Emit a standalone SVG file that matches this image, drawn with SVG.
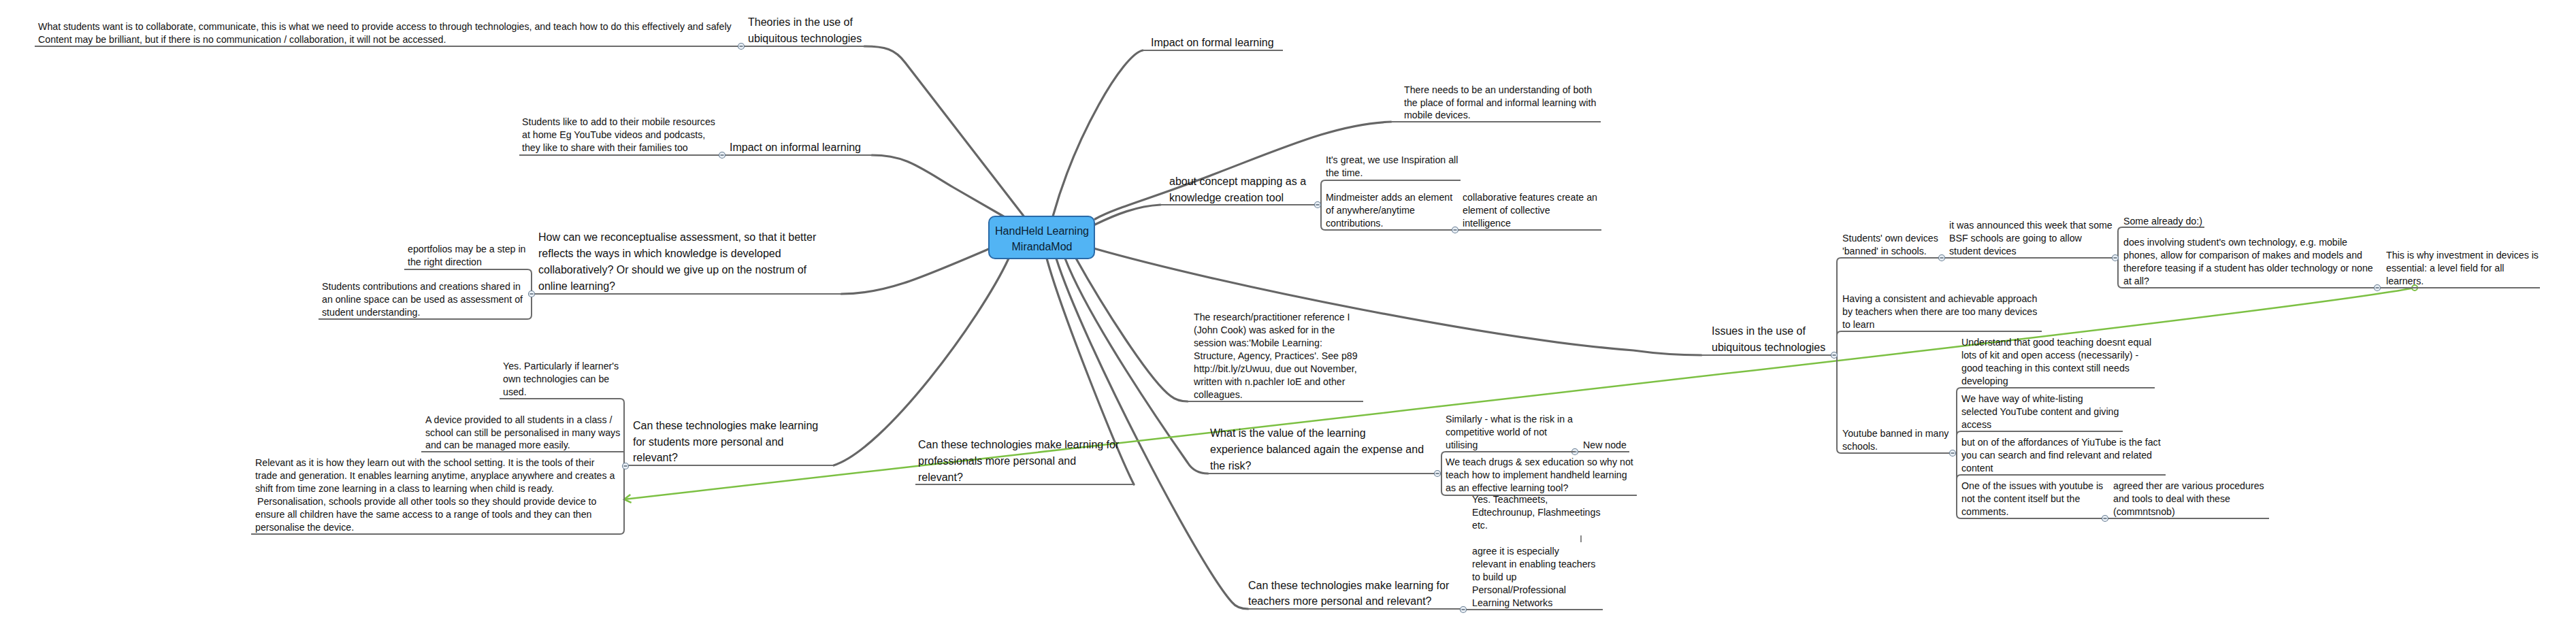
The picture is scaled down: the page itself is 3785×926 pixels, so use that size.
<svg xmlns="http://www.w3.org/2000/svg" width="3785" height="926" viewBox="0 0 3785 926">
<style>
text{font-family:"Liberation Sans",Arial,sans-serif;fill:#111}
.t{font-size:14.2px}
.h{font-size:16px}
.c{font-size:16px;text-anchor:middle;fill:#0b1e33}
.br{fill:none;stroke:#666;stroke-width:3.2;stroke-linecap:round}
.ul{fill:none;stroke:#6b6b6b;stroke-width:2}
.cc{fill:#eaf0f6;stroke:#6a7f94;stroke-width:1.2}
.mn{stroke:#2c3e50;stroke-width:1.2}
.gl{fill:none;stroke:#7cc043;stroke-width:2.5}
</style>
<defs>
<marker id="ga" markerWidth="14" markerHeight="14" refX="11" refY="7" orient="auto" markerUnits="userSpaceOnUse">
<path d="M1,1 L11,7 L1,13" fill="none" stroke="#7cc043" stroke-width="2.5"/>
</marker>
<g id="col"><circle class="cc" r="4.5"/><line class="mn" x1="-2.5" y1="0" x2="2.5" y2="0"/></g>
</defs>
<rect width="3785" height="926" fill="#fff"/>

<g id="connectors">
<path class="br" d="M1270,68 C1300,68 1315,72 1330,92 L1506,320"/>
<path class="br" d="M1281,228 C1330,228 1350,245 1400,275 L1478,320"/>
<path class="br" d="M1236,432 C1300,432 1350,410 1455,365"/>
<path class="br" d="M1225,684 C1300,660 1440,470 1482,380"/>
<path class="br" d="M1538,380 C1560,460 1640,660 1666,712"/>
<path class="br" d="M1552,380 C1590,500 1760,830 1810,885 Q1818,895 1834,895"/>
<path class="br" d="M1565,380 C1600,470 1710,630 1745,680 Q1755,696 1775,696"/>
<path class="br" d="M1580,378 C1620,450 1690,560 1720,582 Q1730,590 1745,590"/>
<path class="br" d="M1679,74 C1650,80 1580,200 1547,318"/>
<path class="br" d="M2044,179 C1960,182 1880,220 1760,265 C1690,292 1640,305 1609,322"/>
<path class="br" d="M1705,301 C1670,303 1640,315 1609,330"/>
<path class="br" d="M1607,365 C1800,420 2200,500 2400,515 Q2450,522 2500,522"/>
<path class="gl" d="M3548,423 C3380,455 2400,565 917,734" marker-end="url(#ga)"/>
<circle cx="3548" cy="423" r="4" fill="#fff" stroke="#7cc043" stroke-width="2"/>
</g>

<g id="center">
<rect x="1453" y="318" width="155" height="62" rx="9" fill="#52b4f4" stroke="#2a6aa8" stroke-width="2"/>
<text class="c" x="1531" y="345">HandHeld Learning</text>
<text class="c" x="1531" y="368">MirandaMod</text>
</g>

<g id="theories">
<text class="h" x="1099" y="38">Theories in the use of</text>
<text class="h" x="1099" y="62">ubiquitous technologies</text>
<path class="ul" d="M1089,68 H1285"/>
</g>
<g id="what-students">
<text class="t" x="56" y="44">What students want is to collaborate, communicate, this is what we need to provide access to through technologies, and teach how to do this effectively and safely</text>
<text class="t" x="56" y="63">Content may be brilliant, but if there is no communication / collaboration, it will not be accessed.</text>
<path class="ul" d="M51,68 H1089"/>
<use href="#col" x="1089" y="68"/>
</g>

<g id="informal">
<text class="h" x="1072" y="222">Impact on informal learning</text>
<path class="ul" d="M1061,228 H1285"/>
</g>
<g id="students-like">
<text class="t" x="767" y="184">Students like to add to their mobile resources</text>
<text class="t" x="767" y="203">at home Eg YouTube videos and podcasts,</text>
<text class="t" x="767" y="222">they like to share with their families too</text>
<path class="ul" d="M763,228 H1061"/>
<use href="#col" x="1061" y="228"/>
</g>

<g id="assessment">
<text class="h" x="791" y="354">How can we reconceptualise assessment, so that it better</text>
<text class="h" x="791" y="378">reflects the ways in which knowledge is developed</text>
<text class="h" x="791" y="402">collaboratively? Or should we give up on the nostrum of</text>
<text class="h" x="791" y="426">online learning?</text>
<path class="ul" d="M781,432 H1236"/>
</g>
<g id="eportfolios">
<text class="t" x="599" y="371">eportfolios may be a step in</text>
<text class="t" x="599" y="390">the right direction</text>
</g>
<g id="contributions">
<text class="t" x="473" y="426">Students contributions and creations shared in</text>
<text class="t" x="473" y="445">an online space can be used as  assessment of</text>
<text class="t" x="473" y="464">student understanding.</text>
<path class="ul" d="M594,396 H775 Q781,396 781,402 V463 Q781,469 775,469 H468"/>
<use href="#col" x="781" y="432"/>
</g>

<g id="students-personal">
<text class="h" x="930" y="631">Can these technologies make learning</text>
<text class="h" x="930" y="655">for students more personal and</text>
<text class="h" x="930" y="678">relevant?</text>
<path class="ul" d="M919,684 H1225"/>
</g>
<g id="yes-particularly">
<text class="t" x="739" y="543">Yes. Particularly if learner's</text>
<text class="t" x="739" y="562">own technologies can be</text>
<text class="t" x="739" y="581">used.</text>
</g>
<g id="device">
<text class="t" x="625" y="622">A device provided to all students in a class /</text>
<text class="t" x="625" y="641">school can still be personalised in many ways</text>
<text class="t" x="625" y="659">and can be managed more easily.</text>
</g>
<g id="relevant">
<text class="t" x="375" y="685">Relevant as it is how they learn out with the school setting.  It is the tools of their</text>
<text class="t" x="375" y="704">trade and generation.  It enables learning anytime, anyplace anywhere and creates a</text>
<text class="t" x="375" y="723">shift from time zone learning in a class to learning when child is ready.</text>
<text class="t" x="378" y="742">Personalisation, schools provide all other tools so they should provide device to</text>
<text class="t" x="375" y="761">ensure all children have the same access to a range of tools and they can then</text>
<text class="t" x="375" y="780">personalise the device.</text>
<path class="ul" d="M734,586 H911 Q917,586 917,592 V779 Q917,785 911,785 H369 M619,664 H917"/>
<use href="#col" x="919" y="685"/>
</g>

<g id="professionals">
<text class="h" x="1349" y="659">Can these technologies make learning for</text>
<text class="h" x="1349" y="683">professionals more personal and</text>
<text class="h" x="1349" y="707">relevant?</text>
<path class="ul" d="M1345,712 H1666"/>
</g>

<g id="formal">
<text class="h" x="1691" y="68">Impact on formal learning</text>
<path class="ul" d="M1679,74 H1885"/>
</g>
<g id="there-needs">
<text class="t" x="2063" y="137">There needs to be an understanding of both</text>
<text class="t" x="2063" y="156">the place of formal and informal learning with</text>
<text class="t" x="2063" y="174">mobile devices.</text>
<path class="ul" d="M2044,179 H2352"/>
</g>

<g id="concept">
<text class="h" x="1718" y="272">about concept mapping as a</text>
<text class="h" x="1718" y="296">knowledge creation tool</text>
<path class="ul" d="M1705,301 H1936"/>
</g>
<g id="its-great">
<text class="t" x="1948" y="240">It's great, we use Inspiration all</text>
<text class="t" x="1948" y="259">the time.</text>
</g>
<g id="mindmeister">
<text class="t" x="1948" y="295">Mindmeister adds an element</text>
<text class="t" x="1948" y="314">of anywhere/anytime</text>
<text class="t" x="1948" y="333">contributions.</text>
<path class="ul" d="M2146,265 H1947 Q1941,265 1941,271 V332 Q1941,338 1947,338 H2138"/>
<use href="#col" x="1936" y="301"/>
</g>
<g id="collaborative">
<text class="t" x="2149" y="295">collaborative features create an</text>
<text class="t" x="2149" y="314">element of collective</text>
<text class="t" x="2149" y="333">intelligence</text>
<path class="ul" d="M2138,338 H2353"/>
<use href="#col" x="2138" y="338"/>
</g>

<g id="research">
<text class="t" x="1754" y="471">The research/practitioner reference I</text>
<text class="t" x="1754" y="490">(John Cook) was asked for in the</text>
<text class="t" x="1754" y="509">session was:'Mobile Learning:</text>
<text class="t" x="1754" y="528">Structure, Agency, Practices'. See p89</text>
<text class="t" x="1754" y="547">http://bit.ly/zUwuu, due out November,</text>
<text class="t" x="1754" y="566">written with n.pachler IoE and other</text>
<text class="t" x="1754" y="585">colleagues.</text>
<path class="ul" d="M1738,590 H2003"/>
</g>

<g id="value">
<text class="h" x="1778" y="642">What is the value of the learning</text>
<text class="h" x="1778" y="666">experience balanced again the expense and</text>
<text class="h" x="1778" y="690">the risk?</text>
<path class="ul" d="M1767,696 H2112"/>
</g>
<g id="similarly">
<text class="t" x="2124" y="621">Similarly - what is the risk in a</text>
<text class="t" x="2124" y="640">competitive world of not</text>
<text class="t" x="2124" y="659">utilising</text>
</g>
<g id="new-node">
<text class="t" x="2326" y="659">New node</text>
<path class="ul" d="M2314,664 H2394"/>
<use href="#col" x="2314" y="664"/>
</g>
<g id="we-teach">
<text class="t" x="2124" y="684">We teach drugs &amp; sex education so why not</text>
<text class="t" x="2124" y="703">teach how to implement handheld learning</text>
<text class="t" x="2124" y="722">as an effective learning tool?</text>
<path class="ul" d="M2314,664 H2124 Q2118,664 2118,670 V722 Q2118,728 2124,728 H2405"/>
<use href="#col" x="2112" y="696"/>
</g>

<g id="teachers">
<text class="h" x="1834" y="866">Can these technologies make learning for</text>
<text class="h" x="1834" y="889">teachers more personal and relevant?</text>
<path class="ul" d="M1834,895 H2150"/>
</g>
<g id="teachmeets">
<text class="t" x="2163" y="739">Yes. Teachmeets,</text>
<text class="t" x="2163" y="758">Edtechrounup, Flashmeetings</text>
<text class="t" x="2163" y="777">etc.</text>
<line x1="2323" y1="787" x2="2323" y2="797" stroke="#111" stroke-width="1"/>
<text class="t" x="2163" y="815">agree it is especially</text>
<text class="t" x="2163" y="834">relevant in enabling teachers</text>
<text class="t" x="2163" y="853">to build up</text>
<text class="t" x="2163" y="872">Personal/Professional</text>
<text class="t" x="2163" y="891">Learning Networks</text>
<path class="ul" d="M2150,896 H2355"/>
<use href="#col" x="2150" y="896"/>
</g>

<g id="issues">
<text class="h" x="2515" y="492">Issues in the use of</text>
<text class="h" x="2515" y="516">ubiquitous technologies</text>
<path class="ul" d="M2498,522 H2695"/>
</g>
<g id="own-devices">
<text class="t" x="2707" y="355">Students' own devices</text>
<text class="t" x="2707" y="374">'banned' in schools.</text>
<path class="ul" d="M2853,379 H2705 Q2699,379 2699,385 V660 Q2699,666 2705,666 H2869 M2699,493 Q2699,487 2705,487 H3000"/>
<use href="#col" x="2695" y="522"/>
</g>
<g id="announced">
<text class="t" x="2864" y="336">it was announced this week that some</text>
<text class="t" x="2864" y="355">BSF schools are going to allow</text>
<text class="t" x="2864" y="374">student devices</text>
<path class="ul" d="M2853,379 H3108"/>
<use href="#col" x="2853" y="379"/>
</g>
<g id="some-already">
<text class="t" x="3120" y="330">Some already do:)</text>
</g>
<g id="does-involving">
<text class="t" x="3120" y="361">does involving student's own technology, e.g. mobile</text>
<text class="t" x="3120" y="380">phones, allow for comparison of makes and models and</text>
<text class="t" x="3120" y="399">therefore teasing if a student has older technology or none</text>
<text class="t" x="3120" y="418">at all?</text>
<path class="ul" d="M3239,334 H3118 Q3112,334 3112,340 V417 Q3112,423 3118,423 H3493"/>
<use href="#col" x="3108" y="379"/>
</g>
<g id="level-field">
<text class="t" x="3506" y="380">This is why investment in devices is</text>
<text class="t" x="3506" y="399">essential: a level field for all</text>
<text class="t" x="3506" y="418">learners.</text>
<path class="ul" d="M3493,423 H3732"/>
<use href="#col" x="3493" y="423"/>
</g>
<g id="consistent">
<text class="t" x="2707" y="444">Having a consistent and achievable approach</text>
<text class="t" x="2707" y="463">by teachers when there are too many devices</text>
<text class="t" x="2707" y="482">to learn</text>
</g>
<g id="youtube">
<text class="t" x="2707" y="642">Youtube banned in many</text>
<text class="t" x="2707" y="661">schools.</text>
<path class="ul" d="M3166,570 H2881 Q2875,570 2875,576 V756 Q2875,762 2881,762 H3093 M2875,640 Q2875,634 2881,634 H3119 M2875,704 Q2875,698 2881,698 H3182"/>
<use href="#col" x="2869" y="666"/>
</g>
<g id="understand">
<text class="t" x="2882" y="508">Understand that good teaching doesnt equal</text>
<text class="t" x="2882" y="527">lots of kit and open access (necessarily) -</text>
<text class="t" x="2882" y="546">good teaching in this context still needs</text>
<text class="t" x="2882" y="565">developing</text>
</g>
<g id="white-listing">
<text class="t" x="2882" y="591">We have way of white-listing</text>
<text class="t" x="2882" y="610">selected YouTube content and giving</text>
<text class="t" x="2882" y="629">access</text>
</g>
<g id="affordances">
<text class="t" x="2882" y="655">but on of the affordances of YiuTube is the fact</text>
<text class="t" x="2882" y="674">you can search and find relevant and related</text>
<text class="t" x="2882" y="693">content</text>
</g>
<g id="comments">
<text class="t" x="2882" y="719">One of the issues with youtube is</text>
<text class="t" x="2882" y="738">not the content itself but the</text>
<text class="t" x="2882" y="757">comments.</text>
</g>
<g id="procedures">
<text class="t" x="3105" y="719">agreed ther are various procedures</text>
<text class="t" x="3105" y="738">and tools to deal with these</text>
<text class="t" x="3105" y="757">(commntsnob)</text>
<path class="ul" d="M3093,762 H3334"/>
<use href="#col" x="3093" y="762"/>
</g>
</svg>
